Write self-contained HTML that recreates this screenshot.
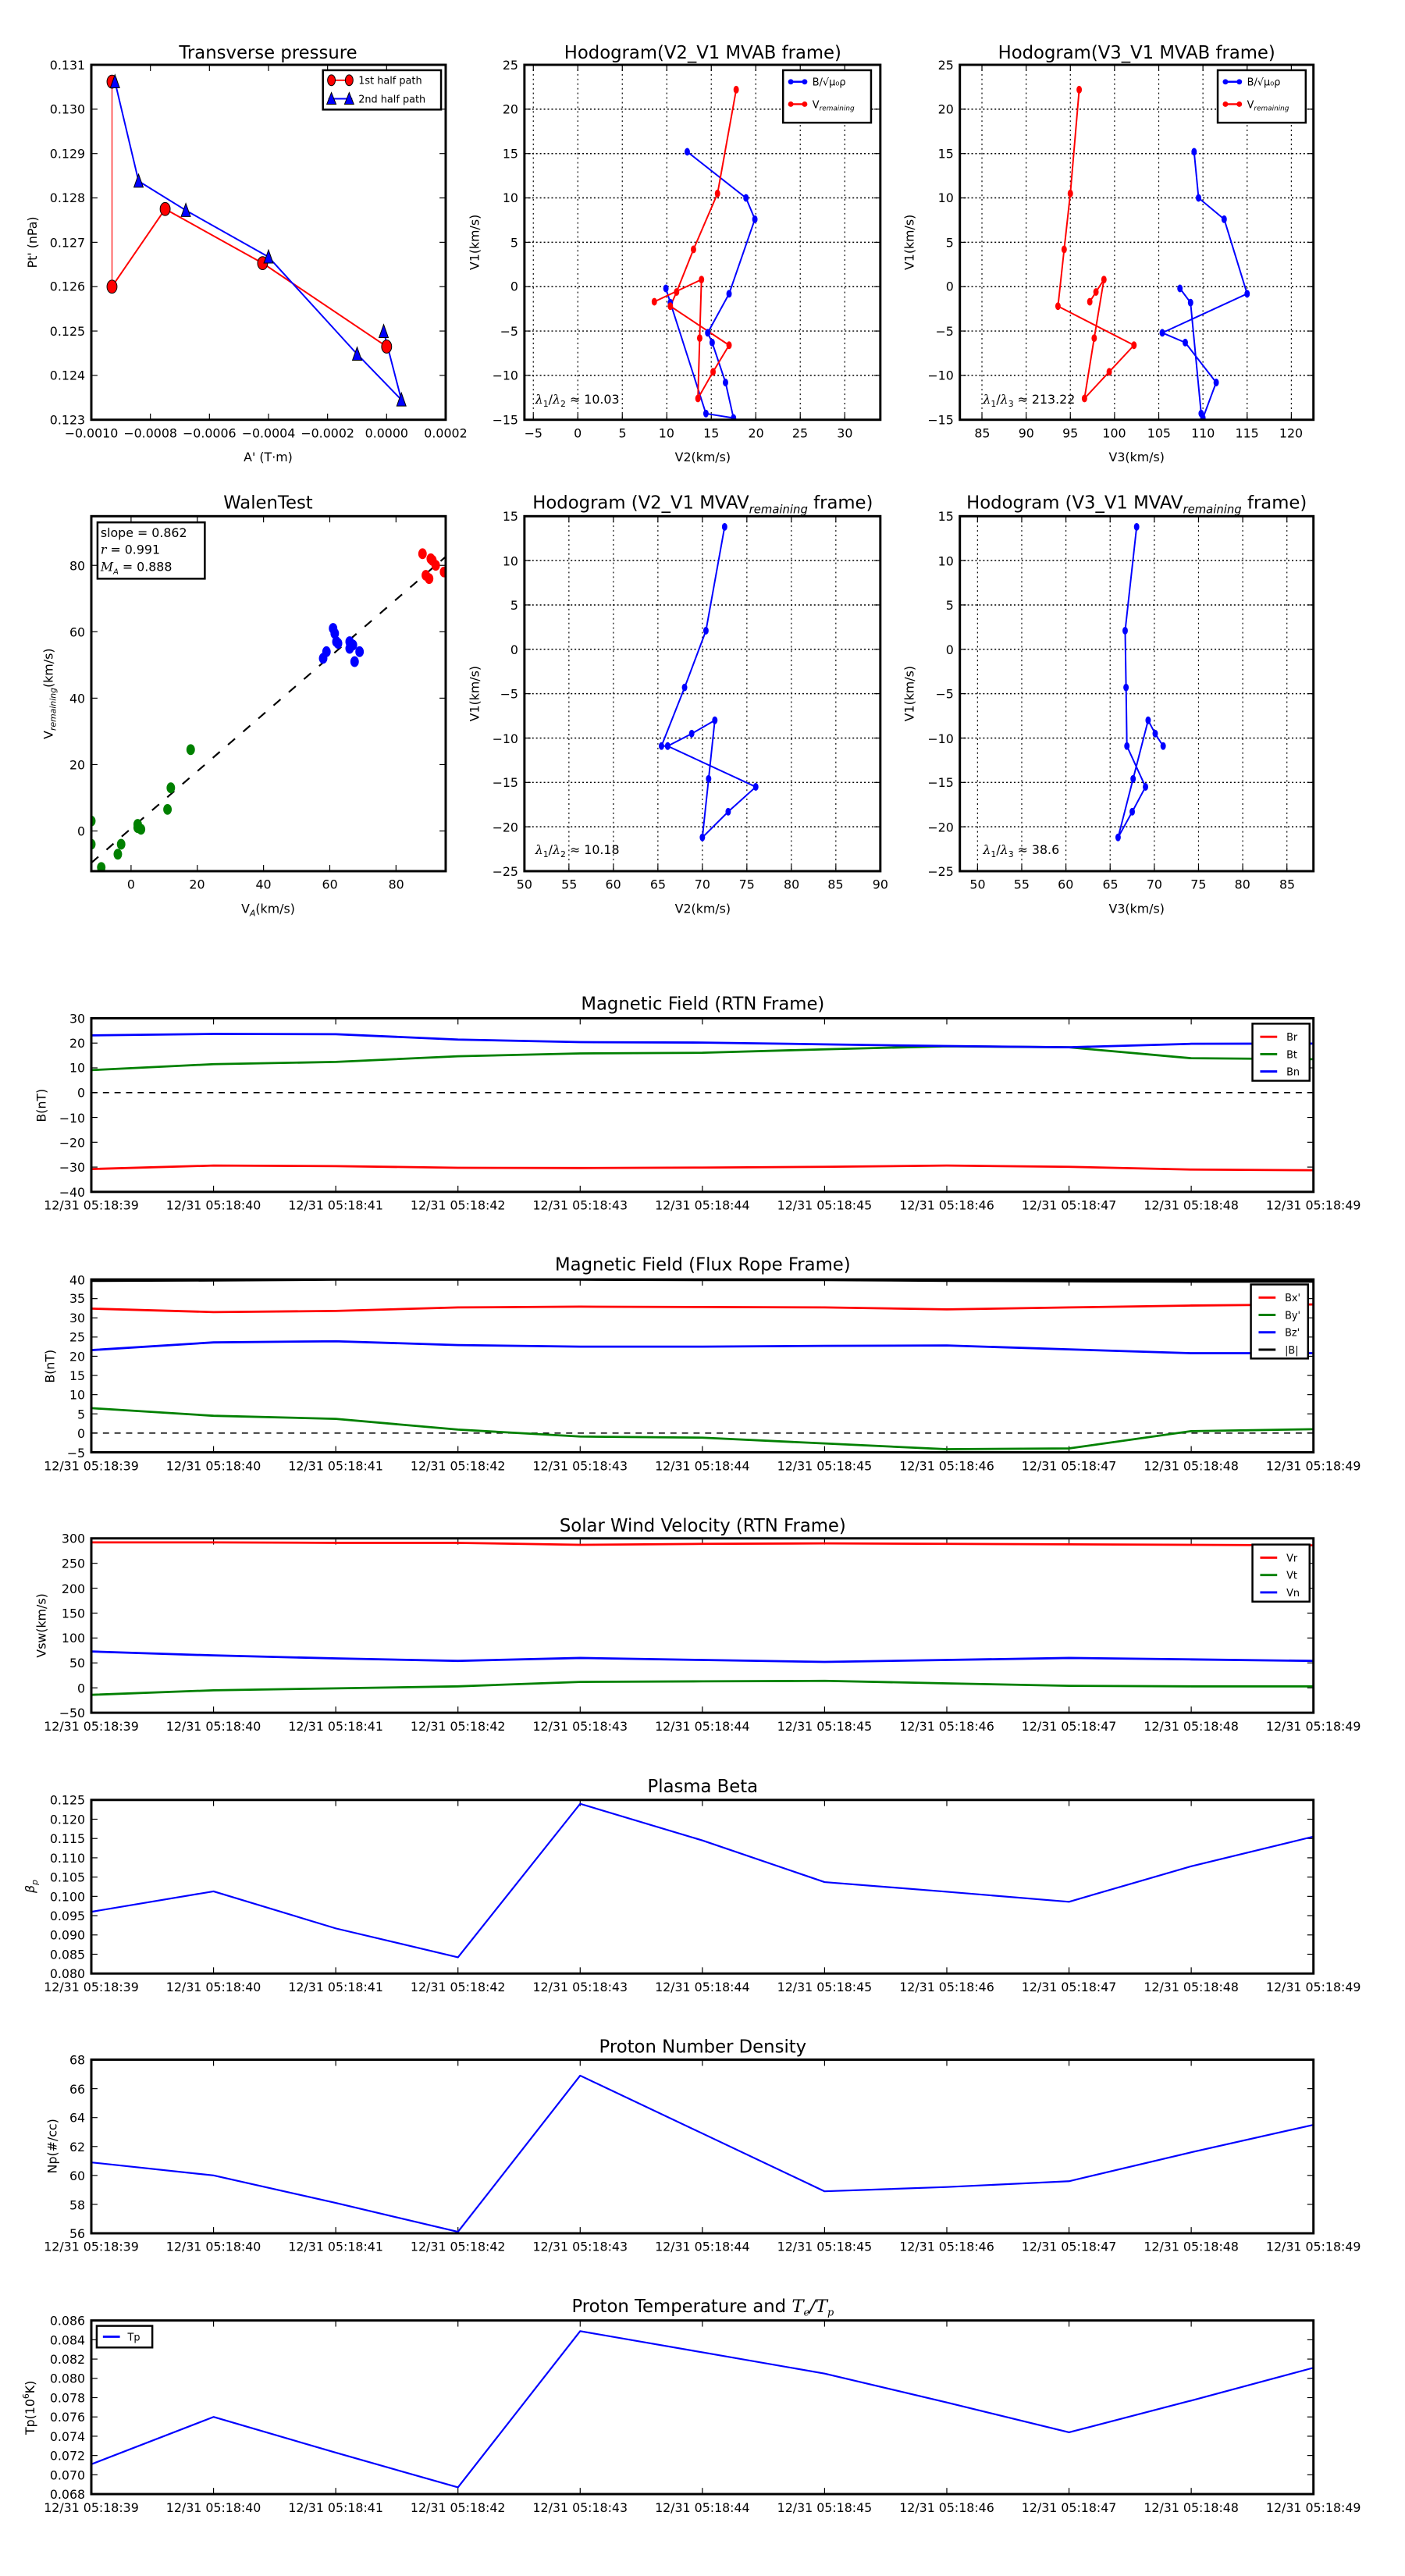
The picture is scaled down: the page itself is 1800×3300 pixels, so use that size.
<!DOCTYPE html>
<html><head><meta charset="utf-8"><style>
html,body{margin:0;padding:0;background:#fff}
svg{display:block}
text{font-family:"DejaVu Sans","Liberation Sans",sans-serif;fill:#000}
.t{font-size:16px}
.ti{font-size:23px;text-anchor:middle}
.yl{text-anchor:end;font-size:16px}
.xl{text-anchor:middle;font-size:16px}
.lab{font-size:16px;text-anchor:middle}
.lg{font-size:13px}
</style></head><body>
<svg id="s" xmlns="http://www.w3.org/2000/svg" width="1800" height="3300" viewBox="0 0 1800 3300">
<g id="b0" transform="matrix(0.98907 0 0 0.9885 0.29 0)">
<text class="ti" x="347" y="76">Transverse pressure</text>
<text class="ti" x="910" y="76">Hodogram(V2_V1 MVAB frame)</text>
<text class="ti" x="1472" y="76">Hodogram(V3_V1 MVAB frame)</text>
<text class="yl" x="110" y="90">0.131</text><text class="yl" x="110" y="147">0.130</text><text class="yl" x="110" y="205">0.129</text><text class="yl" x="110" y="262">0.128</text><text class="yl" x="110" y="320">0.127</text><text class="yl" x="110" y="377">0.126</text><text class="yl" x="110" y="435">0.125</text><text class="yl" x="110" y="492">0.124</text><text class="yl" x="110" y="550">0.123</text>
<text class="yl" x="671" y="90">25</text><text class="yl" x="671" y="147">20</text><text class="yl" x="671" y="205">15</text><text class="yl" x="671" y="262">10</text><text class="yl" x="671" y="320">5</text><text class="yl" x="671" y="377">0</text><text class="yl" x="671" y="435">−5</text><text class="yl" x="671" y="492">−10</text><text class="yl" x="671" y="550">−15</text>
<text class="yl" x="1235" y="90">25</text><text class="yl" x="1235" y="147">20</text><text class="yl" x="1235" y="205">15</text><text class="yl" x="1235" y="262">10</text><text class="yl" x="1235" y="320">5</text><text class="yl" x="1235" y="377">0</text><text class="yl" x="1235" y="435">−5</text><text class="yl" x="1235" y="492">−10</text><text class="yl" x="1235" y="550">−15</text>
<text class="xl" x="118" y="567">−0.0010</text><text class="xl" x="194.5" y="567">−0.0008</text><text class="xl" x="271" y="567">−0.0006</text><text class="xl" x="347.5" y="567">−0.0004</text><text class="xl" x="424" y="567">−0.0002</text><text class="xl" x="500.5" y="567">0.0000</text><text class="xl" x="577" y="567">0.0002</text>
<text class="xl" x="690.5" y="567">−5</text><text class="xl" x="748" y="567">0</text><text class="xl" x="806" y="567">5</text><text class="xl" x="863" y="567">10</text><text class="xl" x="921" y="567">15</text><text class="xl" x="979" y="567">20</text><text class="xl" x="1036" y="567">25</text><text class="xl" x="1094" y="567">30</text>
<text class="xl" x="1272" y="567">85</text><text class="xl" x="1329" y="567">90</text><text class="xl" x="1386" y="567">95</text><text class="xl" x="1443" y="567">100</text><text class="xl" x="1501" y="567">105</text><text class="xl" x="1558" y="567">110</text><text class="xl" x="1615" y="567">115</text><text class="xl" x="1672" y="567">120</text>
<text class="lab" x="347" y="598">A' (T·m)</text>
<text class="lab" x="910" y="598">V2(km/s)</text>
<text class="lab" x="1472" y="598">V3(km/s)</text>
<text class="lab" transform="translate(47,314) rotate(-90)">Pt' (nPa)</text>
<text class="lab" transform="translate(620,314) rotate(-90)">V1(km/s)</text>
<text class="lab" transform="translate(1183,314) rotate(-90)">V1(km/s)</text>
<text class="t" x="693" y="523"><tspan font-style="italic" font-family="DejaVu Serif">λ</tspan><tspan font-size="11" dy="4">1</tspan><tspan dy="-4">/</tspan><tspan font-style="italic" font-family="DejaVu Serif">λ</tspan><tspan font-size="11" dy="4">2</tspan><tspan dy="-4"> ≈ 10.03</tspan></text>
<text class="t" x="1273" y="523"><tspan font-style="italic" font-family="DejaVu Serif">λ</tspan><tspan font-size="11" dy="4">1</tspan><tspan dy="-4">/</tspan><tspan font-style="italic" font-family="DejaVu Serif">λ</tspan><tspan font-size="11" dy="4">3</tspan><tspan dy="-4"> ≈ 213.22</tspan></text>
</g>
<g id="b1" transform="matrix(0.98907 0 0 0.9885 0.29 6.9)">
<text class="ti" x="347" y="652">WalenTest</text>
<text class="ti" x="910" y="652">Hodogram (V2_V1 MVAV<tspan font-size="15" font-style="italic" dy="6">remaining</tspan><tspan dy="-6"> frame)</tspan></text>
<text class="ti" x="1472" y="652">Hodogram (V3_V1 MVAV<tspan font-size="15" font-style="italic" dy="6">remaining</tspan><tspan dy="-6"> frame)</tspan></text>
<text class="yl" x="110" y="732">80</text><text class="yl" x="110" y="818">60</text><text class="yl" x="110" y="904">40</text><text class="yl" x="110" y="990">20</text><text class="yl" x="110" y="1076">0</text>
<text class="xl" x="169.5" y="1145">0</text><text class="xl" x="255" y="1145">20</text><text class="xl" x="341" y="1145">40</text><text class="xl" x="427" y="1145">60</text><text class="xl" x="513" y="1145">80</text>
<text class="yl" x="671" y="668">15</text><text class="yl" x="671" y="726">10</text><text class="yl" x="671" y="783">5</text><text class="yl" x="671" y="841">0</text><text class="yl" x="671" y="898">−5</text><text class="yl" x="671" y="956">−10</text><text class="yl" x="671" y="1013">−15</text><text class="yl" x="671" y="1071">−20</text><text class="yl" x="671" y="1128">−25</text>
<text class="yl" x="1235" y="668">15</text><text class="yl" x="1235" y="726">10</text><text class="yl" x="1235" y="783">5</text><text class="yl" x="1235" y="841">0</text><text class="yl" x="1235" y="898">−5</text><text class="yl" x="1235" y="956">−10</text><text class="yl" x="1235" y="1013">−15</text><text class="yl" x="1235" y="1071">−20</text><text class="yl" x="1235" y="1128">−25</text>
<text class="xl" x="679" y="1145">50</text><text class="xl" x="737" y="1145">55</text><text class="xl" x="794" y="1145">60</text><text class="xl" x="852" y="1145">65</text><text class="xl" x="909.5" y="1145">70</text><text class="xl" x="967" y="1145">75</text><text class="xl" x="1025" y="1145">80</text><text class="xl" x="1082" y="1145">85</text><text class="xl" x="1140" y="1145">90</text>
<text class="xl" x="1266" y="1145">50</text><text class="xl" x="1323" y="1145">55</text><text class="xl" x="1380" y="1145">60</text><text class="xl" x="1438" y="1145">65</text><text class="xl" x="1495" y="1145">70</text><text class="xl" x="1552" y="1145">75</text><text class="xl" x="1609" y="1145">80</text><text class="xl" x="1667" y="1145">85</text>
<text class="lab" x="347" y="1176">V<tspan font-size="11" font-style="italic" dy="4">A</tspan><tspan dy="-4">(km/s)</tspan></text>
<text class="lab" x="910" y="1176">V2(km/s)</text>
<text class="lab" x="1472" y="1176">V3(km/s)</text>
<text class="lab" transform="translate(68,892) rotate(-90)">V<tspan font-size="11" font-style="italic" dy="4">remaining</tspan><tspan dy="-4">(km/s)</tspan></text>
<text class="lab" transform="translate(620,892) rotate(-90)">V1(km/s)</text>
<text class="lab" transform="translate(1183,892) rotate(-90)">V1(km/s)</text>
<text class="t" x="693" y="1100"><tspan font-style="italic" font-family="DejaVu Serif">λ</tspan><tspan font-size="11" dy="4">1</tspan><tspan dy="-4">/</tspan><tspan font-style="italic" font-family="DejaVu Serif">λ</tspan><tspan font-size="11" dy="4">2</tspan><tspan dy="-4"> ≈ 10.18</tspan></text>
<text class="t" x="1273" y="1100"><tspan font-style="italic" font-family="DejaVu Serif">λ</tspan><tspan font-size="11" dy="4">1</tspan><tspan dy="-4">/</tspan><tspan font-style="italic" font-family="DejaVu Serif">λ</tspan><tspan font-size="11" dy="4">3</tspan><tspan dy="-4"> ≈ 38.6</tspan></text>
</g>
<g id="b2" transform="matrix(0.98907 0 0 0.9884 0.29 14.6)">
<text class="ti" x="910" y="1294">Magnetic Field (RTN Frame)</text>
<text class="ti" x="910" y="1632">Magnetic Field (Flux Rope Frame)</text>
<text class="yl" x="110" y="1311">30</text><text class="yl" x="110" y="1343">20</text><text class="yl" x="110" y="1375">10</text><text class="yl" x="110" y="1407">0</text><text class="yl" x="110" y="1440">−10</text><text class="yl" x="110" y="1472">−20</text><text class="yl" x="110" y="1504">−30</text><text class="yl" x="110" y="1536">−40</text>
<text class="yl" x="110" y="1650">40</text><text class="yl" x="110" y="1674">35</text><text class="yl" x="110" y="1699">30</text><text class="yl" x="110" y="1724">25</text><text class="yl" x="110" y="1749">20</text><text class="yl" x="110" y="1774">15</text><text class="yl" x="110" y="1799">10</text><text class="yl" x="110" y="1824">5</text><text class="yl" x="110" y="1849">0</text><text class="yl" x="110" y="1874">−5</text>
<text class="lab" transform="translate(59,1418) rotate(-90)">B(nT)</text>
<text class="lab" transform="translate(70,1756) rotate(-90)">B(nT)</text>
<g transform="translate(0,1553)"><text class="xl" x="118">12/31 05:18:39</text><text class="xl" x="276.3">12/31 05:18:40</text><text class="xl" x="434.6">12/31 05:18:41</text><text class="xl" x="592.9">12/31 05:18:42</text><text class="xl" x="751.2">12/31 05:18:43</text><text class="xl" x="909.5">12/31 05:18:44</text><text class="xl" x="1067.8">12/31 05:18:45</text><text class="xl" x="1226.1">12/31 05:18:46</text><text class="xl" x="1384.4">12/31 05:18:47</text><text class="xl" x="1542.7">12/31 05:18:48</text><text class="xl" x="1701">12/31 05:18:49</text></g>
<g transform="translate(0,1891)"><text class="xl" x="118">12/31 05:18:39</text><text class="xl" x="276.3">12/31 05:18:40</text><text class="xl" x="434.6">12/31 05:18:41</text><text class="xl" x="592.9">12/31 05:18:42</text><text class="xl" x="751.2">12/31 05:18:43</text><text class="xl" x="909.5">12/31 05:18:44</text><text class="xl" x="1067.8">12/31 05:18:45</text><text class="xl" x="1226.1">12/31 05:18:46</text><text class="xl" x="1384.4">12/31 05:18:47</text><text class="xl" x="1542.7">12/31 05:18:48</text><text class="xl" x="1701">12/31 05:18:49</text></g>
</g>
<g id="b3" transform="matrix(0.98907 0 0 0.9884 0.29 22.6)">
<text class="ti" x="910" y="1962">Solar Wind Velocity (RTN Frame)</text>
<text class="ti" x="910" y="2300">Plasma Beta</text>
<text class="yl" x="110" y="1977">300</text><text class="yl" x="110" y="2009">250</text><text class="yl" x="110" y="2042">200</text><text class="yl" x="110" y="2074">150</text><text class="yl" x="110" y="2106">100</text><text class="yl" x="110" y="2138">50</text><text class="yl" x="110" y="2171">0</text><text class="yl" x="110" y="2203">−50</text>
<text class="yl" x="110" y="2316">0.125</text><text class="yl" x="110" y="2341">0.120</text><text class="yl" x="110" y="2366">0.115</text><text class="yl" x="110" y="2391">0.110</text><text class="yl" x="110" y="2416">0.105</text><text class="yl" x="110" y="2441">0.100</text><text class="yl" x="110" y="2466">0.095</text><text class="yl" x="110" y="2491">0.090</text><text class="yl" x="110" y="2516">0.085</text><text class="yl" x="110" y="2541">0.080</text>
<text class="lab" transform="translate(59,2084) rotate(-90)">Vsw(km/s)</text>
<text class="lab" transform="translate(44,2422) rotate(-90)" font-style="italic" font-family="DejaVu Serif">β<tspan font-size="11" dy="4">p</tspan></text>
<g transform="translate(0,2220)"><text class="xl" x="118">12/31 05:18:39</text><text class="xl" x="276.3">12/31 05:18:40</text><text class="xl" x="434.6">12/31 05:18:41</text><text class="xl" x="592.9">12/31 05:18:42</text><text class="xl" x="751.2">12/31 05:18:43</text><text class="xl" x="909.5">12/31 05:18:44</text><text class="xl" x="1067.8">12/31 05:18:45</text><text class="xl" x="1226.1">12/31 05:18:46</text><text class="xl" x="1384.4">12/31 05:18:47</text><text class="xl" x="1542.7">12/31 05:18:48</text><text class="xl" x="1701">12/31 05:18:49</text></g>
<g transform="translate(0,2558)"><text class="xl" x="118">12/31 05:18:39</text><text class="xl" x="276.3">12/31 05:18:40</text><text class="xl" x="434.6">12/31 05:18:41</text><text class="xl" x="592.9">12/31 05:18:42</text><text class="xl" x="751.2">12/31 05:18:43</text><text class="xl" x="909.5">12/31 05:18:44</text><text class="xl" x="1067.8">12/31 05:18:45</text><text class="xl" x="1226.1">12/31 05:18:46</text><text class="xl" x="1384.4">12/31 05:18:47</text><text class="xl" x="1542.7">12/31 05:18:48</text><text class="xl" x="1701">12/31 05:18:49</text></g>
</g>
<g id="b4" transform="matrix(0.98907 0 0 0.9884 0.29 30.2)">
<text class="ti" x="910" y="2630">Proton Number Density</text>
<text class="ti" x="910" y="2966">Proton Temperature and <tspan font-style="italic" font-family="DejaVu Serif">T<tspan font-size="13" dy="5">e</tspan><tspan dy="-5">/T</tspan><tspan font-size="13" dy="5">p</tspan></tspan></text>
<text class="yl" x="110" y="2645">68</text><text class="yl" x="110" y="2683">66</text><text class="yl" x="110" y="2720">64</text><text class="yl" x="110" y="2758">62</text><text class="yl" x="110" y="2795">60</text><text class="yl" x="110" y="2833">58</text><text class="yl" x="110" y="2870">56</text>
<text class="yl" x="110" y="2983">0.086</text><text class="yl" x="110" y="3008">0.084</text><text class="yl" x="110" y="3033">0.082</text><text class="yl" x="110" y="3058">0.080</text><text class="yl" x="110" y="3083">0.078</text><text class="yl" x="110" y="3108">0.076</text><text class="yl" x="110" y="3133">0.074</text><text class="yl" x="110" y="3158">0.072</text><text class="yl" x="110" y="3183">0.070</text><text class="yl" x="110" y="3208">0.068</text>
<text class="lab" transform="translate(73,2751) rotate(-90)">Np(#/cc)</text>
<text class="lab" transform="translate(44,3090) rotate(-90)">Tp(10<tspan font-size="11" dy="-7">6</tspan><tspan dy="7">K)</tspan></text>
<g transform="translate(0,2887)"><text class="xl" x="118">12/31 05:18:39</text><text class="xl" x="276.3">12/31 05:18:40</text><text class="xl" x="434.6">12/31 05:18:41</text><text class="xl" x="592.9">12/31 05:18:42</text><text class="xl" x="751.2">12/31 05:18:43</text><text class="xl" x="909.5">12/31 05:18:44</text><text class="xl" x="1067.8">12/31 05:18:45</text><text class="xl" x="1226.1">12/31 05:18:46</text><text class="xl" x="1384.4">12/31 05:18:47</text><text class="xl" x="1542.7">12/31 05:18:48</text><text class="xl" x="1701">12/31 05:18:49</text></g>
<g transform="translate(0,3225)"><text class="xl" x="118">12/31 05:18:39</text><text class="xl" x="276.3">12/31 05:18:40</text><text class="xl" x="434.6">12/31 05:18:41</text><text class="xl" x="592.9">12/31 05:18:42</text><text class="xl" x="751.2">12/31 05:18:43</text><text class="xl" x="909.5">12/31 05:18:44</text><text class="xl" x="1067.8">12/31 05:18:45</text><text class="xl" x="1226.1">12/31 05:18:46</text><text class="xl" x="1384.4">12/31 05:18:47</text><text class="xl" x="1542.7">12/31 05:18:48</text><text class="xl" x="1701">12/31 05:18:49</text></g>
</g>
</svg>
<script>
(function(){
var NS="http://www.w3.org/2000/svg";
var B=[0,1,2,3,4].map(function(i){return document.getElementById('b'+i)});
var CUR=B[0];
function txt(x,y,s,cls){var e=add('text',{x:x,y:y,'class':cls||'lg'});e.textContent=s;return e;}
function add(n,a){var e=document.createElementNS(NS,n);for(var k in a)e.setAttribute(k,a[k]);CUR.appendChild(e);return e;}
function P(L,R,T,Bt,x0,x1,y0,y1){return {L:L,R:R,T:T,B:Bt,X:function(v){return L+(v-x0)/(x1-x0)*(R-L)},Y:function(v){return Bt-(v-y0)/(y1-y0)*(Bt-T)}};}
function frame(p,xt,yt,grid){
  var cp=add('clipPath',{id:'c'+p.L+'_'+p.T});var r=document.createElementNS(NS,'rect');r.setAttribute('x',p.L);r.setAttribute('y',p.T);r.setAttribute('width',p.R-p.L);r.setAttribute('height',p.B-p.T);cp.appendChild(r);
  xt.forEach(function(v){var x=p.X(v);
    if(grid)add('line',{x1:x,x2:x,y1:p.T,y2:p.B,stroke:'#000','stroke-width':1.2,'stroke-dasharray':'2,4'});
    add('line',{x1:x,x2:x,y1:p.B,y2:p.B-8,stroke:'#000','stroke-width':1.2});
    add('line',{x1:x,x2:x,y1:p.T,y2:p.T+8,stroke:'#000','stroke-width':1.2});});
  yt.forEach(function(v){var y=p.Y(v);
    if(grid)add('line',{x1:p.L,x2:p.R,y1:y,y2:y,stroke:'#000','stroke-width':1.5,'stroke-dasharray':'2,3'});
    add('line',{x1:p.L,x2:p.L+8,y1:y,y2:y,stroke:'#000','stroke-width':1.2});
    add('line',{x1:p.R,x2:p.R-8,y1:y,y2:y,stroke:'#000','stroke-width':1.2});});
}
function box(p){add('rect',{x:p.L,y:p.T,width:p.R-p.L,height:p.B-p.T,fill:'none',stroke:'#000','stroke-width':3});}
function line(p,pts,col,w,dash){var d=pts.map(function(q){return p.X(q[0]).toFixed(1)+','+p.Y(q[1]).toFixed(1)}).join(' ');
  var a={points:d,fill:'none',stroke:col,'stroke-width':w,'clip-path':'url(#c'+p.L+'_'+p.T+')','stroke-linejoin':'round'};if(dash)a['stroke-dasharray']=dash;add('polyline',a);}
function dots(p,pts,col,rx,ry,st){pts.forEach(function(q){add('ellipse',{cx:p.X(q[0]),cy:p.Y(q[1]),rx:rx,ry:ry||rx,fill:col,stroke:st?'#000':'none','stroke-width':1,'clip-path':'url(#c'+p.L+'_'+p.T+')'});});}
function tri(p,pts,col){pts.forEach(function(q){var x=p.X(q[0]),y=p.Y(q[1]);add('polygon',{points:(x-6)+','+(y+8)+' '+(x+6)+','+(y+8)+' '+x+','+(y-9),fill:col,stroke:'#000','stroke-width':1});});}
function rng(a,b,s){var r=[];for(var v=a;v<=b+1e-9;v+=s)r.push(+v.toFixed(6));return r;}

CUR=B[0];
var p1=P(118,577,84,544,-0.001,0.0002,0.123,0.131);frame(p1,rng(-0.001,0.0002,0.0002),rng(0.123,0.131,0.001));
var red1=[[-0.00093,0.13062],[-0.00093,0.12600],[-0.00075,0.12775],[-0.00042,0.12653],[0.0000,0.12465]];
var blu1=[[-0.00092,0.13062],[-0.00084,0.12838],[-0.00068,0.12772],[-0.0004,0.12667],[-0.0001,0.12448],[0.00005,0.12345],[-0.00001,0.12499]];
line(p1,[red1[0],red1[1]],'#ff0000',1.2);line(p1,red1.slice(1),'#ff0000',2);
line(p1,blu1,'#0000ff',2);dots(p1,red1,'#ff0000',6.5,8.5,true);tri(p1,blu1,'#0000ff');box(p1);
add('rect',{x:418,y:91,width:153,height:51,fill:'#fff',stroke:'#000','stroke-width':2.5});
add('line',{x1:425,x2:456,y1:104,y2:104,stroke:'#ff0000','stroke-width':2});
add('ellipse',{cx:429,cy:104,rx:5,ry:7,fill:'#ff0000',stroke:'#000'});add('ellipse',{cx:452,cy:104,rx:5,ry:7,fill:'#ff0000',stroke:'#000'});
add('line',{x1:425,x2:456,y1:128,y2:128,stroke:'#0000ff','stroke-width':2});
add('polygon',{points:'423,135 435,135 429,120',fill:'#0000ff',stroke:'#000'});add('polygon',{points:'446,135 458,135 452,120',fill:'#0000ff',stroke:'#000'});
txt(464,109,'1st half path');txt(464,133,'2nd half path');

var p2=P(679,1140,84,544,-6,34,-15,25);frame(p2,rng(-5,30,5),rng(-15,25,5),true);
var b2=[[12.3,15.2],[18.9,10],[19.9,7.6],[17.0,-0.8],[14.6,-5.2],[15.1,-6.3],[16.6,-10.8],[17.5,-14.8],[14.4,-14.3],[10.4,-1.8],[9.9,-0.2]];
var r2=[[17.8,22.2],[15.7,10.5],[13.0,4.2],[11.1,-0.6],[10.4,-2.2],[17.0,-6.6],[15.2,-9.6],[13.5,-12.6],[13.7,-5.8],[13.9,0.8],[8.6,-1.7]];
line(p2,b2,'#0000ff',2);line(p2,r2,'#ff0000',2);dots(p2,b2,'#0000ff',3.5,5);dots(p2,r2,'#ff0000',3.5,5);box(p2);
var p3=P(1243,1701,84,544,82.5,122.5,-15,25);frame(p3,rng(85,120,5),rng(-15,25,5),true);
var b3=[[109,15.2],[109.5,10],[112.4,7.6],[115,-0.8],[105.4,-5.2],[108,-6.3],[111.5,-10.8],[110,-14.8],[109.8,-14.3],[108.6,-1.8],[107.4,-0.2]];
var r3=[[96,22.2],[95,10.5],[94.3,4.2],[93.6,-2.2],[102.2,-6.6],[99.4,-9.6],[96.6,-12.6],[97.7,-5.8],[98.8,0.8],[97.9,-0.6],[97.2,-1.7]];
line(p3,b3,'#0000ff',2);line(p3,r3,'#ff0000',2);dots(p3,b3,'#0000ff',3.5,5);dots(p3,r3,'#ff0000',3.5,5);box(p3);
[[1014,91],[1577,91]].forEach(function(o){var x=o[0],y=o[1];
 add('rect',{x:x,y:y,width:114,height:68,fill:'#fff',stroke:'#000','stroke-width':2.5});
 add('line',{x1:x+8,x2:x+30,y1:y+15,y2:y+15,stroke:'#0000ff','stroke-width':2.5});add('circle',{cx:x+10,cy:y+15,r:3.5,fill:'#0000ff'});add('circle',{cx:x+28,cy:y+15,r:3.5,fill:'#0000ff'});
 add('line',{x1:x+8,x2:x+30,y1:y+44,y2:y+44,stroke:'#ff0000','stroke-width':2.5});add('circle',{cx:x+10,cy:y+44,r:3.5,fill:'#ff0000'});add('circle',{cx:x+28,cy:y+44,r:3.5,fill:'#ff0000'});
 txt(x+38,y+20,'B/√μ₀ρ');var t=txt(x+38,y+49,'V');var s=document.createElementNS(NS,'tspan');s.setAttribute('font-size','9');s.setAttribute('font-style','italic');s.setAttribute('dy','3');s.textContent='remaining';t.appendChild(s);});

CUR=B[1];
var w=P(118,577,662,1122,-12,95,-12.1,94.8);frame(w,[0,20,40,60,80],[0,20,40,60,80]);
line(w,[[-12,-9.6],[95,82.6]],'#000',2.2,'12,14');
dots(w,[[-12,3],[-12,-4],[-9,-11],[-3,-4],[-4,-7],[2,1],[2,2],[3,0.5],[11,6.5],[12,13],[18,24.5]],'#008000',5.5,7);
dots(w,[[58,52],[59,54],[61,61],[61.5,59.5],[62,57],[62.5,56.5],[66,55],[66,57],[67,56],[67.5,51],[69,54]],'#0000ff',5.5,7);
dots(w,[[88,83.5],[90.5,82],[91,81.5],[92,80],[94.5,78],[89,77],[90,76]],'#ff0000',5.5,7);box(w);
add('rect',{x:126,y:670,width:139,height:73,fill:'#fff',stroke:'#000','stroke-width':2.5});
txt(130,689,'slope = 0.862','t');
var t1=txt(130,711,'','t');t1.innerHTML='<tspan font-style="italic" font-family="DejaVu Serif">r</tspan> = 0.991';
var t2=txt(130,733,'','t');t2.innerHTML='<tspan font-style="italic" font-family="DejaVu Serif">M</tspan><tspan font-size="10" font-style="italic" dy="4">A</tspan><tspan dy="-4"> = 0.888</tspan>';
var q2=P(679,1140,662,1122,50,90,-25,15);frame(q2,rng(50,90,5),rng(-25,15,5),true);
var d2=[[72.5,13.8],[70.4,2.1],[68.0,-4.3],[65.4,-10.9],[66.1,-10.9],[76,-15.5],[72.9,-18.3],[70.0,-21.2],[70.7,-14.6],[71.4,-8],[68.8,-9.5],[66.1,-10.9]];
line(q2,d2,'#0000ff',2);dots(q2,d2,'#0000ff',3.5,5);box(q2);
var q3=P(1243,1701,662,1122,48,88,-25,15);frame(q3,rng(50,85,5),rng(-25,15,5),true);
var d3=[[68,13.8],[66.7,2.1],[66.8,-4.3],[66.9,-10.9],[69,-15.5],[67.5,-18.3],[65.9,-21.2],[67.6,-14.6],[69.3,-8],[70.1,-9.5],[71,-10.9]];
line(q3,d3,'#0000ff',2);dots(q3,d3,'#0000ff',3.5,5);box(q3);

function ts(T,Bt,y0,y1,step,series,zero){var p=P(118,1701,T,Bt,0,10,y0,y1);frame(p,rng(0,10,1),rng(y0,y1,step));
 if(zero)line(p,[[0,0],[10,0]],'#000',1.5,'8,7');
 series.forEach(function(s){line(p,s[1].map(function(v,i){return [i,v]}),s[0],s[2]||2.8);});box(p);return p;}
function leg(x,y,h,cols,names){add('rect',{x:x,y:y,width:74,height:h,fill:'#fff',stroke:'#000','stroke-width':2.5});
 cols.forEach(function(c,i){add('line',{x1:x+10,x2:x+32,y1:y+17+i*22.5,y2:y+17+i*22.5,stroke:c,'stroke-width':3});txt(x+44,y+22+i*22.5,names[i]);});}
CUR=B[2];
ts(1305,1530,-40,30,10,[['#ff0000',[-30.8,-29.4,-29.6,-30.3,-30.4,-30.2,-29.9,-29.4,-29.9,-31.0,-31.3]],['#008000',[9.1,11.5,12.4,14.7,15.8,16.1,17.5,18.7,18.3,13.9,13.5]],['#0000ff',[23.1,23.7,23.6,21.4,20.4,20.2,19.5,18.8,18.3,19.7,19.8]]],true);
ts(1643.5,1867.5,-5,40,5,[['#ff0000',[32.4,31.5,31.8,32.7,32.9,32.8,32.7,32.2,32.7,33.2,33.5]],['#008000',[6.5,4.5,3.7,0.9,-0.9,-1.2,-2.7,-4.2,-4.0,0.5,1.0]],['#0000ff',[21.6,23.6,23.9,22.9,22.5,22.5,22.7,22.8,21.8,20.8,20.8]],['#000',[39.7,39.8,40,40,40,39.9,39.9,39.7,39.6,39.5,39.5],3.5]],true);
leg(1622,1312,74,['#ff0000','#008000','#0000ff'],['Br','Bt','Bn']);
leg(1620,1650,96,['#ff0000','#008000','#0000ff','#000'],["Bx'","By'","Bz'",'|B|']);
CUR=B[3];
ts(1971,2197,-50,300,50,[['#ff0000',[292,292,291,291,287,289,290,289,288,287,286]],['#008000',[-14,-5,-1,3,12,13,14,9,4,3,3]],['#0000ff',[73,65,59,54,60,56,52,56,60,57,54]]]);
ts(2310,2535,0.08,0.125,0.005,[['#0000ff',[0.0960,0.1013,0.0917,0.0842,0.1240,0.1145,0.1037,0.1012,0.0986,0.1078,0.1155],2.2]]);
leg(1622,1979,74,['#ff0000','#008000','#0000ff'],['Vr','Vt','Vn']);
CUR=B[4];
ts(2639,2864,56,68,2,[['#0000ff',[60.9,60.0,58.1,56.1,66.9,62.9,58.9,59.2,59.6,61.6,63.5],2.2]]);
ts(2977,3202,0.068,0.086,0.002,[['#0000ff',[0.0711,0.0760,0.0723,0.0687,0.0849,0.0827,0.0805,0.0775,0.0744,0.0777,0.0811],2.2]]);
add('rect',{x:125,y:2984,width:72,height:28,fill:'#fff',stroke:'#000','stroke-width':2.5});
add('line',{x1:133,x2:155,y1:2998,y2:2998,stroke:'#0000ff','stroke-width':3});
txt(165,3003,'Tp');
})();
</script>
</body></html>
